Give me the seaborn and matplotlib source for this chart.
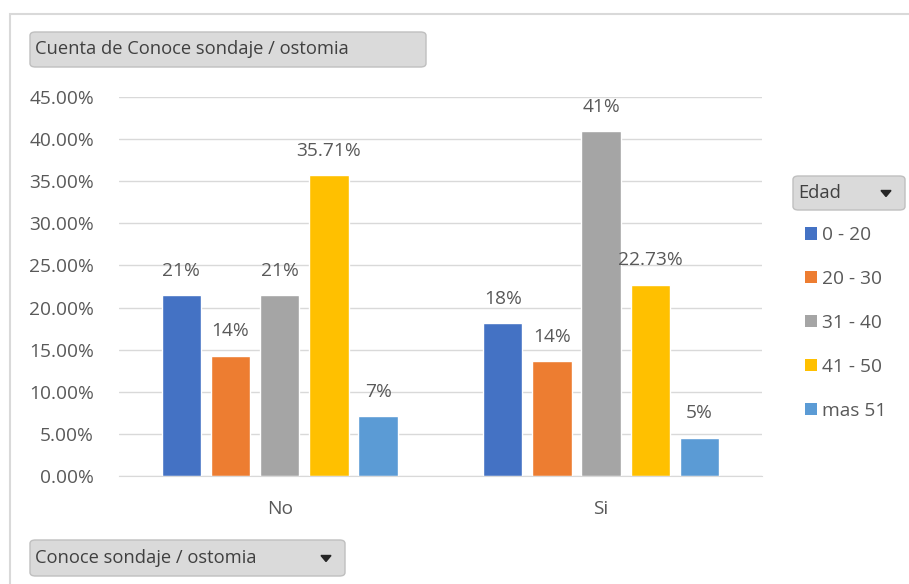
import pandas as pd
import numpy as np
import matplotlib
matplotlib.use("Agg")
import matplotlib.pyplot as plt
from matplotlib.patches import FancyBboxPatch, Rectangle, Polygon, Patch
import seaborn as sns

# Chart data
conoce = ["No", "Si"]
edades = ["0 - 20", "20 - 30", "31 - 40", "41 - 50", "mas 51"]
pct_no = [21.43, 14.29, 21.43, 35.71, 7.14]
pct_si = [18.18, 13.64, 40.91, 22.73, 4.55]
labels_no = ["21%", "14%", "21%", "35.71%", "7%"]
labels_si = ["18%", "14%", "41%", "22.73%", "5%"]
colores = ["#4472C4", "#ED7D31", "#A5A5A5", "#FFC000", "#5B9BD5"]
yticks = [0, 5, 10, 15, 20, 25, 30, 35, 40, 45]

df = pd.DataFrame({
    "Conoce": [c for c in conoce for _ in edades],
    "Edad": edades * 2,
    "pct": pct_no + pct_si,
})

sns.set_style("white")
plt.rcParams["font.family"] = ["Open Sans", "DejaVu Sans"]
txt = "#595959"
fs = 13.8

fig = plt.figure(figsize=(9.09, 5.84), dpi=100)
ax = fig.add_axes([0.131, 0.185, 0.707, 0.649])

sns.barplot(data=df, x="Conoce", y="pct", hue="Edad", hue_order=edades,
            palette=colores, width=0.765, gap=0.2, saturation=1,
            legend=False, ax=ax)

# data labels
for i, cont in enumerate(ax.containers):
    ax.bar_label(cont, labels=[labels_no[i], labels_si[i]], padding=11,
                 fontsize=fs, color=txt)

ax.set_ylim(0, 45)
ax.set_yticks(yticks)
ax.set_yticklabels([f"{v:.2f}%" for v in yticks])
ax.yaxis.grid(True, color="#D9D9D9", linewidth=1)
ax.set_axisbelow(True)
for s in ["top", "right", "left"]:
    ax.spines[s].set_visible(False)
ax.spines["bottom"].set_color("#D9D9D9")
ax.tick_params(axis="both", length=0, labelsize=fs, colors=txt)
ax.tick_params(axis="y", pad=18)
ax.tick_params(axis="x", pad=17)
ax.set_xlabel("")
ax.set_ylabel("")

# outer chart frame
fig.patches.append(Rectangle((10 / 909, -0.05), 1.0, 1 - 14 / 584 + 0.05,
                             transform=fig.transFigure, fill=False,
                             edgecolor="#D9D9D9", linewidth=1.5))


def boton(x0, y0, x1, y1, texto, flecha=False):
    w = (x1 - x0) / 909
    h = (y1 - y0) / 584
    fig.patches.append(FancyBboxPatch((x0 / 909, 1 - y1 / 584), w, h,
                                      boxstyle="round,pad=0,rounding_size=0.006",
                                      transform=fig.transFigure,
                                      facecolor="#DADADA", edgecolor="#BFBFBF",
                                      linewidth=1))
    fig.text((x0 + 5) / 909, 1 - (y0 + y1) / 2 / 584, texto, fontsize=13.2,
             color="#404040", va="center", ha="left")
    if flecha:
        cx = (x1 - 19) / 909
        cy = 1 - (y0 + y1) / 2 / 584
        tri = Polygon([[cx - 5 / 909, cy + 2.5 / 584], [cx + 5 / 909, cy + 2.5 / 584],
                       [cx, cy - 3.5 / 584]], closed=True,
                      transform=fig.transFigure, color="#262626")
        fig.patches.append(tri)


boton(30, 32, 426, 67, "Cuenta de Conoce sondaje / ostomia")
boton(30, 540, 345, 576, "Conoce sondaje / ostomia", flecha=True)
boton(793, 176, 905, 210, "Edad", flecha=True)

# legend
handles = [Patch(facecolor=c, edgecolor="none") for c in colores]
fig.legend(handles, edades, loc="upper left", bbox_to_anchor=(788 / 909, 1 - 209 / 584),
           frameon=False, fontsize=fs, labelcolor=txt, handlelength=0.6,
           handleheight=0.6, handletextpad=0.3, labelspacing=1.35)

fig.savefig("out.png", dpi=100)
